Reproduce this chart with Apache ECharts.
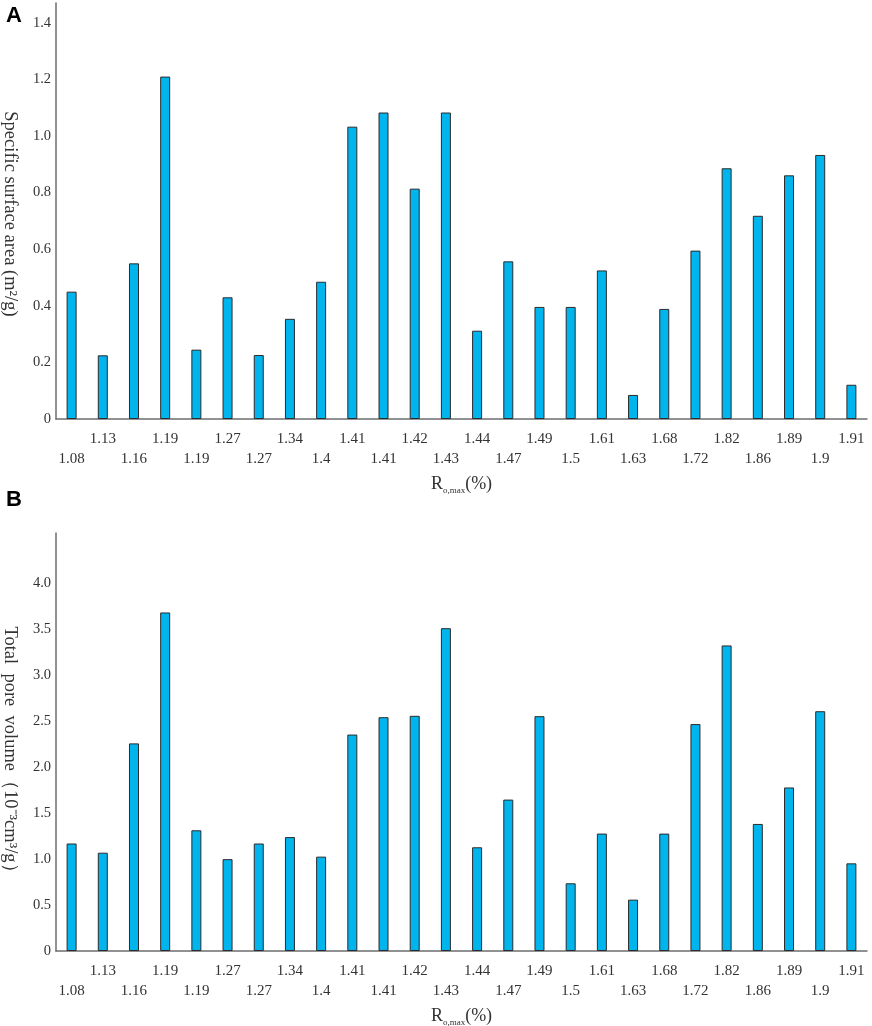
<!DOCTYPE html>
<html>
<head>
<meta charset="utf-8">
<script src="https://cdn.jsdelivr.net/npm/echarts@6/dist/echarts.min.js"></script>
<style>
  html, body { margin: 0; padding: 0; background: #fff; }
  #main { width: 872px; height: 1026px; }
</style>
</head>
<body>
<div id="main"></div>
<script>
// Ro,max 分类
const roMax = ["1.08", "1.13", "1.16", "1.19", "1.19", "1.27", "1.27", "1.34", "1.4", "1.41", "1.41", "1.42", "1.43",
  "1.44", "1.47", "1.49", "1.5", "1.61", "1.63", "1.68", "1.72", "1.82", "1.86", "1.89", "1.9", "1.91"];
// A 比表面积 (m2/g)
const surfaceArea = [0.45, 0.225, 0.55, 1.21, 0.245, 0.43, 0.226, 0.354, 0.485, 1.033, 1.083, 0.814, 1.083,
  0.312, 0.557, 0.396, 0.396, 0.525, 0.085, 0.389, 0.595, 0.886, 0.718, 0.861, 0.933, 0.121];
// B 总孔体积 (10-3 cm3/g)
const poreVolume = [1.17, 1.07, 2.26, 3.685, 1.314, 1.0, 1.17, 1.24, 1.027, 2.356, 2.545, 2.56, 3.514,
  1.129, 1.648, 2.556, 0.737, 1.278, 0.559, 1.278, 2.47, 3.326, 1.383, 1.78, 2.61, 0.954];
// 纵轴刻度 (轴线顶端 max, 最后一个标注 last)
const ticksA = { max: 1.47, step: 0.2, last: 1.4 };
const ticksB = { max: 4.55, step: 0.5, last: 4.0 };

const serif = "Liberation Serif";
const textColor = "#333";
const axisColor = "#6e6e6e";

const myChart = echarts.init(document.getElementById("main"));

const yLabel = (t) => (v) => {
  let k = v / t.step;
  if (Math.abs(k - Math.round(k)) > 1e-6 || v > t.last + 1e-6) return "";
  return v === 0 ? "0" : v.toFixed(1);
};

const xAxisOf = (gridIndex) => ({
  type: "category",
  gridIndex: gridIndex,
  data: roMax,
  boundaryGap: true,
  axisTick: { show: false },
  axisLine: { show: true, lineStyle: { color: axisColor, width: 1.5 } },
  axisLabel: {
    interval: 0,
    margin: 10,
    color: textColor,
    fontFamily: serif,
    fontSize: 15,
    lineHeight: 20,
    formatter: (v, i) => (i % 2 === 0 ? "\n" + v : v),
  },
  name: "{r|R}{s|o,max}{r|(%)}",
  nameLocation: "middle",
  nameGap: 55,
  nameTextStyle: {
    rich: {
      r: { fontFamily: serif, fontSize: 18, color: textColor },
      s: { fontFamily: serif, fontSize: 9, color: textColor, padding: [12, 0, 0, 0] },
    },
  },
});

const yAxisOf = (gridIndex, t, name, pad) => ({
  type: "value",
  gridIndex: gridIndex,
  min: 0,
  max: t.max,
  interval: t.step,
  splitLine: { show: false },
  axisTick: { show: false },
  axisLine: { show: true, lineStyle: { color: axisColor, width: 1.5 } },
  axisLabel: {
    margin: 5,
    color: textColor,
    fontFamily: serif,
    fontSize: 14.5,
    formatter: yLabel(t),
  },
  name: name,
  nameLocation: "middle",
  nameRotate: -90,
  nameGap: 37,
  nameTextStyle: { fontFamily: serif, fontSize: 18.5, color: textColor, padding: pad },
});

const barOf = (i, data) => ({
  type: "bar",
  xAxisIndex: i,
  yAxisIndex: i,
  data: data,
  barWidth: 10,
  animation: false,
  itemStyle: { color: "#00B4EE", borderColor: "#2b2b2b", borderWidth: 1 },
});

let option = {
  backgroundColor: "#fff",
  grid: [
    { left: 56, top: 3, width: 811, height: 416, outerBoundsMode: "none" },
    { left: 56, top: 533, width: 811, height: 418, outerBoundsMode: "none" },
  ],
  xAxis: [xAxisOf(0), xAxisOf(1)],
  yAxis: [
    yAxisOf(0, ticksA, "Specific surface area (m²/g)", [0, 0, 0, 6]),
    yAxisOf(1, ticksB, "Total  pore  volume（10⁻³cm³/g）", [0, 0, 0, 24]),
  ],
  series: [barOf(0, surfaceArea), barOf(1, poreVolume)],
  graphic: [
    { type: "text", left: 6, top: 5, style: { text: "A", font: "bold 22px Arial", fill: "#000" } },
    { type: "text", left: 6, top: 489, style: { text: "B", font: "bold 22px Arial", fill: "#000" } },
  ],
};
myChart.setOption(option);
</script>
</body>
</html>
